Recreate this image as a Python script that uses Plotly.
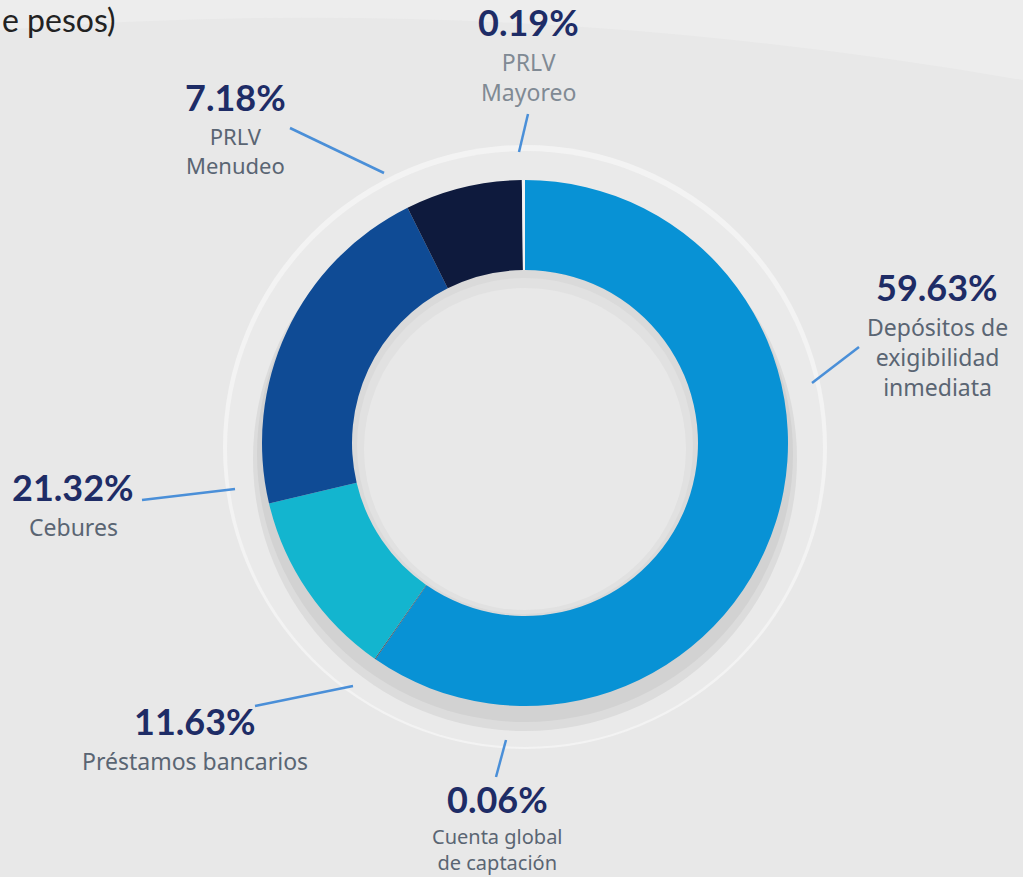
import plotly.graph_objects as go

W, H = 1023, 877

# ---- data ----
labels = ["Depósitos de<br>exigibilidad<br>inmediata", "Cuenta global<br>de captación",
          "Préstamos bancarios", "Cebures", "PRLV<br>Menudeo", "PRLV<br>Mayoreo"]
values = [59.63, 0.06, 11.63, 21.32, 7.18, 0.19]
colors = ["#0892d5", "#4b5563", "#13b5cf", "#0f4b95", "#0e1a3d", "#f2f2f2"]

# ---- label layout (pixel: center x, boundary y between pct and name, leader line, name colour, name size) ----
label_pos = [
    (937, 310, (859, 347, 812, 383), "#5a6573", 23),
    (497, 822, (506, 740, 496, 777), "#5a6573", 20),
    (195, 744, (255, 706, 353, 686), "#5a6573", 23),
    (73, 510, (142, 500, 235, 489), "#5a6573", 23),
    (235, 120, (290, 128, 384, 173), "#5a6573", 22),
    (528, 45, (528, 114, 519, 152), "#808a94", 23),
]

PCT_FONT = "Lato"
NAME_FONT = "Noto Sans"

def px(x):
    return x / W

def py(y):
    return 1 - y / H

cx, cy, R, RH = 525, 443, 263, 173

fig = go.Figure(go.Pie(
    values=values, labels=labels, sort=False, direction="clockwise", rotation=0,
    hole=RH / R, marker=dict(colors=colors, line=dict(width=0)),
    textinfo="none", hoverinfo="label+value", showlegend=False,
    domain=dict(x=[px(cx - R), px(cx + R)], y=[py(cy + R), py(cy - R)]),
))

def circle(x, y, r, fill, line=None, lw=0):
    return dict(type="circle", xref="paper", yref="paper", layer="below",
                x0=px(x - r), x1=px(x + r), y0=py(y + r), y1=py(y - r),
                fillcolor=fill, line=dict(color=line or fill, width=lw))

shapes = [
    # background swoosh
    dict(type="path", xref="paper", yref="paper", layer="below",
         path=f"M 0 {py(30)} Q {px(500)} {py(-10)} {px(1023)} {py(80)} L 1 1 L 0 1 Z",
         fillcolor="#ededed", line=dict(width=0)),
    circle(cx, cy + 4, 302, "#f3f3f3"),
    circle(cx, cy + 6, 298, "#eaeaea"),
    circle(cx, cy + 16, 272, "#dcdcdc"),
    circle(cx, cy + 11, 268, "#d2d2d2"),
    circle(cx, cy, RH, "#dadada"),
    circle(cx, cy + 3, RH - 5, "#e1e1e1"),
    circle(cx, cy + 6, RH - 12, "#e8e8e8"),
]

annotations = [dict(x=0, y=py(20), xref="paper", yref="paper", xanchor="left", yanchor="middle",
                    text="e pesos)", showarrow=False,
                    font=dict(family="Lato", size=32, color="#222222"))]

for lab, val, (x, yb, ln, ncol, nsize) in zip(labels, values, label_pos):
    annotations.append(dict(x=px(x), y=py(yb), xref="paper", yref="paper",
                            xanchor="center", yanchor="bottom", showarrow=False,
                            text=f"<b>{val:.2f}%</b>", borderpad=0,
                            font=dict(family=PCT_FONT, size=36, color="#1e2c66")))
    annotations.append(dict(x=px(x), y=py(yb), xref="paper", yref="paper",
                            xanchor="center", yanchor="top", showarrow=False,
                            text=lab, align="center", borderpad=0,
                            font=dict(family=NAME_FONT, size=nsize, color=ncol)))
    x0, y0, x1, y1 = ln
    shapes.append(dict(type="line", xref="paper", yref="paper", layer="above",
                       x0=px(x0), y0=py(y0), x1=px(x1), y1=py(y1),
                       line=dict(color="#4a8fd8", width=2.5)))

fig.update_layout(width=W, height=H, margin=dict(l=0, r=0, t=0, b=0),
                  paper_bgcolor="#e8e8e8", plot_bgcolor="#e8e8e8",
                  shapes=shapes, annotations=annotations)

fig.write_html("out.html", config={"displayModeBar": False},
               post_script="document.body.style.margin='0';document.body.style.overflow='hidden';")
